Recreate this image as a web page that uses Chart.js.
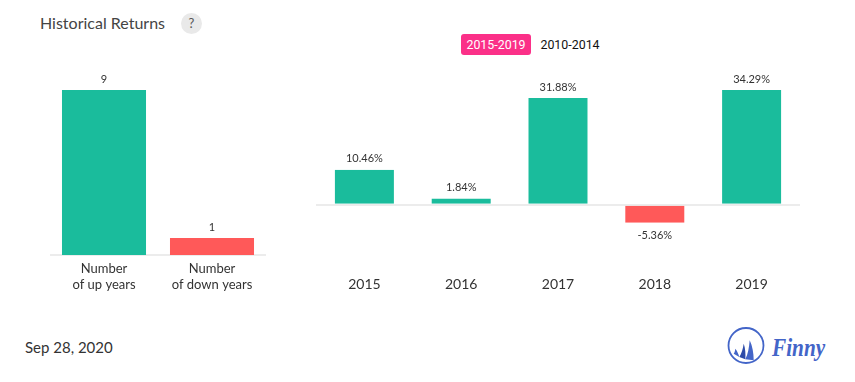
<!DOCTYPE html>
<html lang="en">
  <head>
    <meta charset="UTF-8" />
    <title>Historical Returns</title>
    <style>
      * {
        margin: 0;
        padding: 0;
        box-sizing: border-box;
      }
      body {
        width: 855px;
        height: 382px;
        position: relative;
        overflow: hidden;
        background: #fff;
        font-family: Lato, sans-serif;
      }
      .title {
        position: absolute;
        left: 40px;
        top: 13px;
        font-size: 16px;
        line-height: 20px;
        color: #444;
      }
      .help {
        position: absolute;
        left: 181px;
        top: 13px;
        width: 21px;
        height: 21px;
        border-radius: 50%;
        background: #e9e9e9;
        color: #555;
        font-size: 13px;
        line-height: 21px;
        text-align: center;
      }
      .toggle {
        position: absolute;
        top: 34px;
        height: 21px;
        line-height: 21px;
        font-family: Roboto, sans-serif;
        font-size: 12.4px;
        text-align: center;
        color: #111;
      }
      .toggle.on {
        left: 461px;
        width: 70px;
        background: #fb3088;
        color: #fff;
        border-radius: 3px;
      }
      .toggle.off {
        left: 535px;
        width: 70px;
      }
      .date {
        position: absolute;
        left: 25px;
        top: 337px;
        font-size: 15px;
        line-height: 20px;
        color: #333;
      }
      .logo {
        position: absolute;
        left: 725px;
        top: 326px;
      }
      .brand {
        position: absolute;
        left: 772px;
        top: 333px;
        font-family: "Liberation Serif", serif;
        font-size: 25px;
        line-height: 30px;
        font-weight: 700;
        font-style: italic;
        color: #4365c8;
        transform: scaleX(0.85);
        transform-origin: left center;
      }
      canvas {
        position: absolute;
      }
      #countChart {
        left: 50px;
        top: 60px;
      }
      #returnChart {
        left: 316px;
        top: 60px;
      }
    </style>
  </head>
  <body>
    <div class="title">Historical Returns</div>
    <div class="help">?</div>
    <div class="toggle on">2015-2019</div>
    <div class="toggle off">2010-2014</div>
    <canvas id="countChart" width="216" height="240" style="width:216px;height:240px"></canvas>
    <canvas id="returnChart" width="484" height="240" style="width:484px;height:240px"></canvas>
    <div class="date">Sep 28, 2020</div>
    <svg class="logo" width="42" height="40" viewBox="0 0 42 40">
      <circle cx="21" cy="19.5" r="17.5" fill="none" stroke="#4365c8" stroke-width="1.8" />
      <path d="M24.7 14.3 C24 22 23 28 20.3 33.3 L28.7 34.3 C28.6 27 27.5 20 24.7 14.3 Z" fill="#4365c8" />
      <path d="M18.7 17.7 C18 23 16.5 27.5 14.3 31 L20.3 33.3 C20.8 28 20.3 22 18.7 17.7 Z" fill="#2c4aa8" />
      <path d="M10.3 22.7 C10.2 24.5 9.6 26.3 8.7 27.7 L14.3 31 C13.5 28 12.2 25 10.3 22.7 Z" fill="#4365c8" />
    </svg>
    <div class="brand">Finny</div>

    <script src="https://cdn.jsdelivr.net/npm/chart.js"></script>
    <script>
      const countLabels = [["Number", "of up years"], ["Number", "of down years"]];
      const countValues = [9, 1];
      const years = ["2015", "2016", "2017", "2018", "2019"];
      const returns = [10.46, 1.84, 31.88, -5.36, 34.29];

      const green = "#1abc9c";
      const red = "#ff5959";
      const axisLine = "#ececec";

      Chart.defaults.font.family = "Lato, sans-serif";
      Chart.defaults.animation = false;
      Chart.defaults.responsive = false;

      // value labels above / below each bar
      const barLabels = {
        id: "barLabels",
        afterDatasetsDraw(chart, args, opts) {
          const { ctx } = chart;
          const bars = chart.getDatasetMeta(0).data;
          ctx.save();
          ctx.font = "11px Lato, sans-serif";
          ctx.fillStyle = "#333";
          ctx.textAlign = "center";
          ctx.textBaseline = "middle";
          bars.forEach((bar, i) => {
            const v = chart.data.datasets[0].data[i];
            const y = v < 0 ? bar.y + 13 : bar.y - 11;
            ctx.fillText(opts.format(v), bar.x, y);
          });
          ctx.restore();
        },
      };

      new Chart(document.getElementById("countChart"), {
        type: "bar",
        data: {
          labels: countLabels,
          datasets: [
            {
              data: countValues,
              backgroundColor: [green, red],
              categoryPercentage: 1,
              barPercentage: 0.778,
            },
          ],
        },
        options: {
          layout: { padding: 0 },
          plugins: {
            legend: { display: false },
            tooltip: { enabled: false },
            barLabels: { format: (v) => String(v) },
          },
          scales: {
            x: {
              grid: { display: false, drawTicks: false },
              border: { color: axisLine, width: 2 },
              ticks: {
                color: "#333",
                font: { size: 13 },
                padding: 6,
                maxRotation: 0,
                autoSkip: false,
              },
              afterFit(scale) {
                scale.height = 45;
              },
            },
            y: {
              display: false,
              min: 0.08,
              max: 10.62,
            },
          },
        },
        plugins: [barLabels],
      });

      new Chart(document.getElementById("returnChart"), {
        type: "bar",
        data: {
          labels: years,
          datasets: [
            {
              data: returns,
              backgroundColor: returns.map((v) => (v < 0 ? red : green)),
              borderColor: "#fff",
              borderWidth: { left: 1, right: 1, top: 0, bottom: 0 },
              borderSkipped: false,
              categoryPercentage: 1,
              barPercentage: 0.63,
            },
          ],
        },
        options: {
          layout: { padding: 0 },
          plugins: {
            legend: { display: false },
            tooltip: { enabled: false },
            barLabels: { format: (v) => v.toFixed(2) + "%" },
          },
          scales: {
            x: {
              grid: { display: false, drawTicks: false },
              border: { display: false },
              ticks: {
                color: "#333",
                font: { size: 14 },
                padding: 26,
                maxRotation: 0,
              },
              afterFit(scale) {
                scale.height = 50;
              },
            },
            y: {
              min: -13.54,
              max: 43.26,
              border: { display: false },
              ticks: { display: false },
              grid: {
                color: axisLine,
                lineWidth: 2,
                drawTicks: false,
              },
              afterBuildTicks(scale) {
                scale.ticks = [{ value: 0 }];
              },
              afterFit(scale) {
                scale.width = 0;
              },
            },
          },
        },
        plugins: [barLabels],
      });
    </script>
  </body>
</html>
